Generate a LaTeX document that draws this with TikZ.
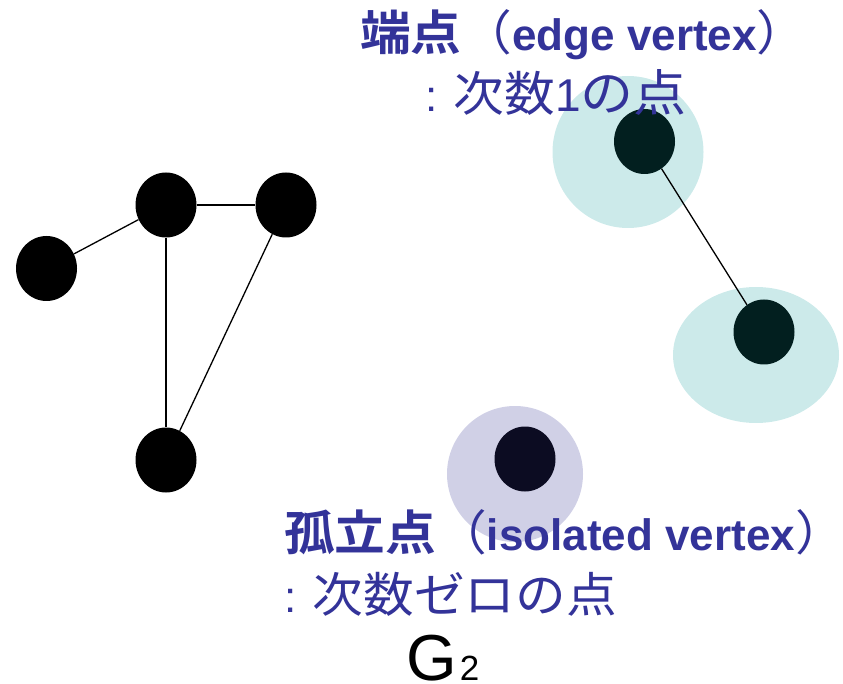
\documentclass[tikz,border=0pt]{standalone}
\usepackage{fontspec}
\setmainfont{Liberation Sans}
\newfontfamily\jp{Noto Sans CJK JP}[Scale=1.087, FakeStretch=1.06, BoldFont={Noto Sans CJK JP Bold}]
\usetikzlibrary{shapes.geometric}
\definecolor{txt}{HTML}{333399}
\definecolor{hlcyan}{HTML}{CCEAEA}
\definecolor{hllav}{HTML}{D0D0E6}
\definecolor{dkteal}{HTML}{021F1F}
\definecolor{dknavy}{HTML}{0C0C22}
\newcommand{\rparjp}{\makebox[0.45em][l]{\jp ）}}
\tikzset{
  vtx/.style={ellipse, fill=black, inner sep=0pt, minimum width=61pt, minimum height=65pt},
  halo/.style={ellipse, inner sep=0pt},
  edge/.style={draw=black, line width=1.3pt},
  lbl/.style={text=txt, inner sep=0pt, anchor=base west, font=\fontsize{44}{50}\selectfont},
}
\begin{document}
\begin{tikzpicture}[x=1pt,y=-1pt]
\useasboundingbox (0,0) rectangle (843,684);
% halos
\node[halo, fill=hlcyan, minimum width=151pt, minimum height=152pt] (h1) at (628,152) {};
\node[halo, fill=hlcyan, minimum width=166pt, minimum height=136pt] (h2) at (756,355) {};
\node[halo, fill=hllav, minimum width=136pt, minimum height=136pt] (h3) at (515,474) {};
% vertices
\node[vtx] (a) at (46.5,268.5) {};
\node[vtx] (b) at (166,205) {};
\node[vtx] (c) at (286,205) {};
\node[vtx] (d) at (166,460) {};
\node[vtx, fill=dkteal] (e) at (644.5,141.5) {};
\node[vtx, fill=dkteal] (f) at (764,332) {};
\node[vtx, fill=dknavy] (g) at (525,459) {};
% edges
\draw[edge] (a) -- (b);
\draw[edge] (b) -- (c);
\draw[edge] (b) -- (d);
\draw[edge] (c) -- (d);
\draw[edge] (e) -- (f);
% labels
\node[lbl] (t1) at (360,51) {{\jp\bfseries 端点}{\jp （}\textbf{edge vertex}\rparjp};
\node[lbl] (t2) at (425,112) {: {\jp 次数}\fontsize{46}{50}\selectfont 1{\jp の点}};
\node[lbl] (t3) at (284,550) {{\jp\bfseries 孤立点}{\jp （}\textbf{isolated vertex}\rparjp};
\node[lbl] (t4) at (284,612) {: {\jp 次数ゼロの点}};
\node[inner sep=0pt, anchor=base west, text depth=0pt, font=\fontsize{65}{70}\selectfont] (gname) at (406,680) {G\kern3pt{\fontsize{35}{40}\selectfont 2}};
\end{tikzpicture}
\end{document}
